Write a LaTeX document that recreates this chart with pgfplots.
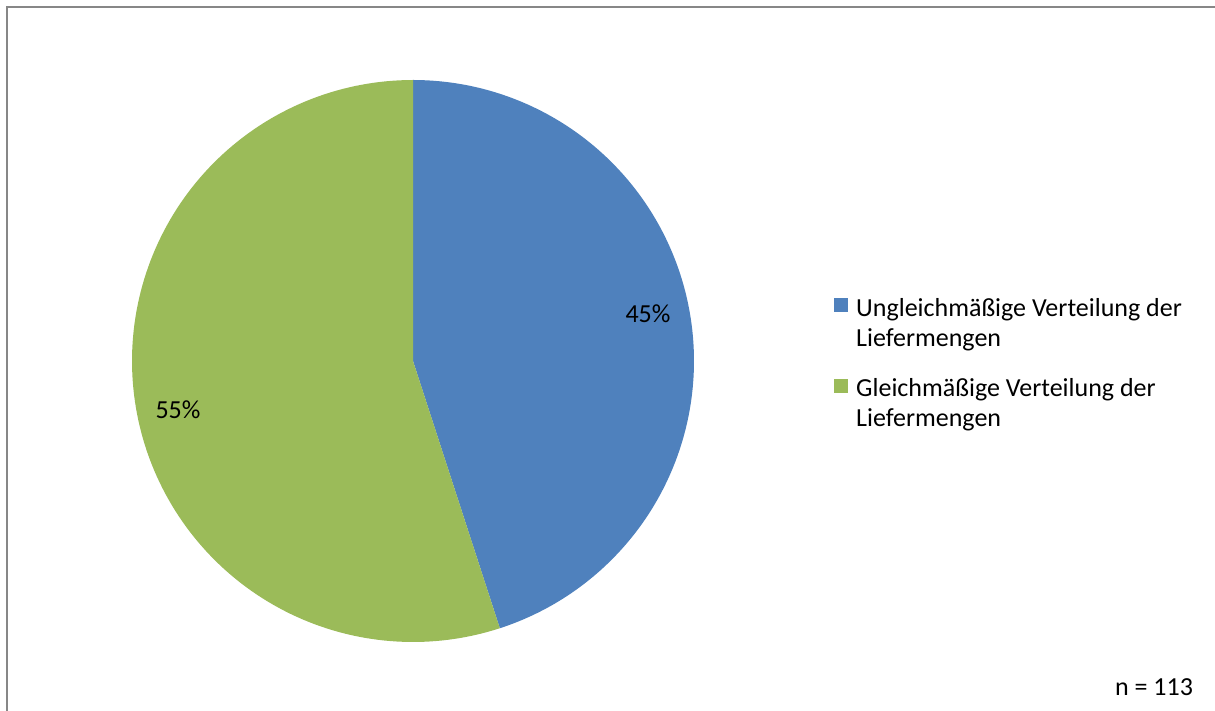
\documentclass[border=0pt]{standalone}
\usepackage{pgfplots}
\usepackage{pgfplotstable}
\pgfplotsset{compat=1.18}
\usepackage{fontspec}
\setmainfont{Carlito}
\definecolor{pieblue}{HTML}{4F81BD}
\definecolor{piegreen}{HTML}{9BBB59}
\definecolor{framegray}{HTML}{878787}
\pgfplotstableread{
label value
Ungleich 45
Gleich 55
}\pietable
\pgfplotstablegetelem{0}{value}\of\pietable
\edef\va{\pgfplotsretval}
\pgfplotstablegetelem{1}{value}\of\pietable
\edef\vb{\pgfplotsretval}
\pgfmathsetmacro\angA{90-3.6*\va}
\pgfmathsetmacro\angB{\angA-3.6*\vb}
\begin{document}%
\begin{tikzpicture}[font=\fontsize{26}{30}\selectfont]
\begin{axis}[
  x=1pt, y=1pt,
  xmin=0, xmax=1215, ymin=0, ymax=711,
  enlargelimits=false,
  hide axis,
  clip=true,
]
\path (axis cs:0,0) rectangle (axis cs:1215,711);
\addplot[fill=pieblue, draw=none, domain=90:\angA, samples=150, variable=\t]
  ({413+281*cos(\t)},{350+281*sin(\t)}) -- (axis cs:413,350) -- cycle;
\addplot[fill=piegreen, draw=none, domain=\angA:\angB, samples=150, variable=\t]
  ({413+281*cos(\t)},{350+281*sin(\t)}) -- (axis cs:413,350) -- cycle;
\node[anchor=base, inner sep=0pt] at (axis cs:648,388) {\va\%};
\node[anchor=base, inner sep=0pt] at (axis cs:178,292) {\vb\%};
% legend
\fill[pieblue] (axis cs:834,399) rectangle (axis cs:848,413);
\fill[piegreen] (axis cs:834,318) rectangle (axis cs:848,332);
\node[anchor=base west, inner sep=0pt] at (axis cs:856,394) {Ungleichmäßige Verteilung der};
\node[anchor=base west, inner sep=0pt] at (axis cs:856,364) {Liefermengen};
\node[anchor=base west, inner sep=0pt] at (axis cs:856,314) {Gleichmäßige Verteilung der};
\node[anchor=base west, inner sep=0pt] at (axis cs:856,284) {Liefermengen};
\node[anchor=base, inner sep=0pt] at (axis cs:1154,15) {n = 113};
\draw[framegray, line width=2pt] (axis cs:7,0) -- (axis cs:7,704) -- (axis cs:1215,704);
\end{axis}
\end{tikzpicture}%
\end{document}
